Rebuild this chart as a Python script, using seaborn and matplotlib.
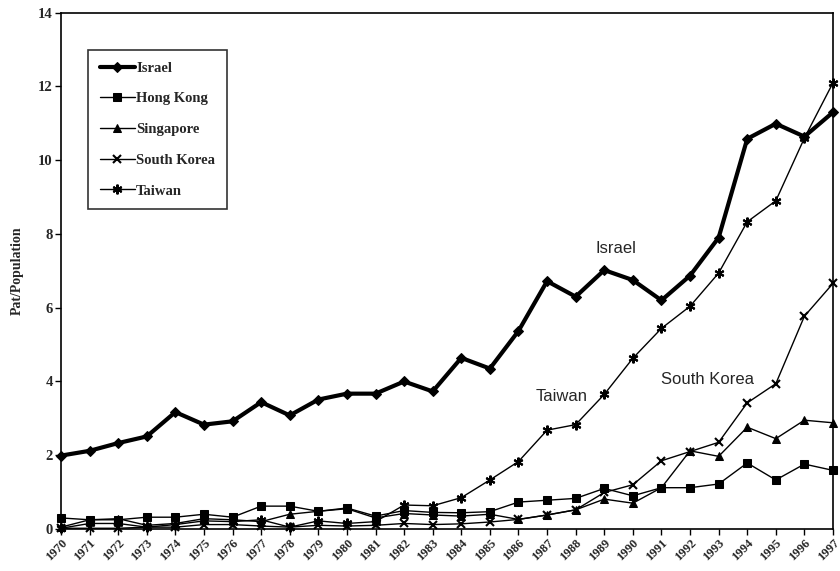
import matplotlib
matplotlib.use("Agg")
import matplotlib.pyplot as plt
import seaborn as sns
import pandas as pd

years = list(range(1970, 1998))
israel = [1.99, 2.12, 2.33, 2.51, 3.17, 2.83, 2.92, 3.44, 3.08, 3.51, 3.67, 3.67, 4.00, 3.73,
          4.64, 4.35, 5.37, 6.72, 6.30, 7.02, 6.75, 6.20, 6.87, 7.90, 10.58, 10.99, 10.64, 11.30]
hong_kong = [0.30, 0.25, 0.25, 0.32, 0.32, 0.40, 0.32, 0.62, 0.62, 0.48, 0.57, 0.35, 0.50, 0.45,
             0.44, 0.47, 0.73, 0.78, 0.83, 1.10, 0.90, 1.12, 1.12, 1.22, 1.79, 1.33, 1.76, 1.59]
singapore = [0.05, 0.25, 0.28, 0.10, 0.15, 0.28, 0.25, 0.20, 0.40, 0.48, 0.55, 0.30, 0.42, 0.38,
             0.35, 0.40, 0.26, 0.38, 0.52, 0.81, 0.70, 1.12, 2.12, 1.97, 2.76, 2.45, 2.95, 2.88]
south_korea = [0.02, 0.02, 0.02, 0.05, 0.05, 0.12, 0.12, 0.08, 0.05, 0.10, 0.08, 0.10, 0.15, 0.12,
               0.14, 0.19, 0.26, 0.38, 0.52, 0.99, 1.20, 1.85, 2.10, 2.35, 3.42, 3.94, 5.77, 6.66]
taiwan = [0.02, 0.15, 0.15, 0.05, 0.12, 0.22, 0.20, 0.25, 0.05, 0.22, 0.15, 0.20, 0.65, 0.63,
          0.85, 1.33, 1.83, 2.68, 2.83, 3.65, 4.63, 5.44, 6.04, 6.94, 8.33, 8.90, 10.60, 12.10]

series_names = ["Israel", "Hong Kong", "Singapore", "South Korea", "Taiwan"]
series_values = [israel, hong_kong, singapore, south_korea, taiwan]
y_ticks = [0, 2, 4, 6, 8, 10, 12, 14]

sns.set_theme(style="white")
plt.rcParams['font.family'] = ['Liberation Serif', 'DejaVu Serif']

fig = plt.figure(figsize=(8.4, 5.71), dpi=100)
ax = fig.add_axes([61/840, 1-529/571, (833-61)/840, (529-12.7)/571])

styles = {
    "Israel": dict(marker="D", markersize=5, linewidth=3.0),
    "Hong Kong": dict(marker="s", markersize=6, linewidth=1.0),
    "Singapore": dict(marker="^", markersize=6, linewidth=1.0),
    "South Korea": dict(marker="x", markersize=6, linewidth=1.0, markeredgewidth=1.5),
    "Taiwan": dict(marker=(6, 2, 0), markersize=7, linewidth=1.0, markeredgewidth=1.5),
}

for name, vals in zip(series_names, series_values):
    df = pd.DataFrame({"year": years, "value": vals})
    sns.lineplot(data=df, x="year", y="value", ax=ax, color="black", label=name,
                 markeredgecolor="black", markerfacecolor="black", clip_on=False,
                 **styles[name])

ax.set_xlim(1970, 1997)
ax.set_ylim(0, 14)
ax.set_yticks(y_ticks)
ax.set_yticklabels([str(t) for t in y_ticks], fontsize=10.5, fontweight="bold")
ax.set_xticks(years)
ax.set_xticklabels([str(y) for y in years], rotation=45, ha="right", rotation_mode="anchor",
                   fontsize=9, fontweight="bold")
ax.tick_params(axis="both", direction="out", length=4, width=1, color="black",
               left=True, bottom=True, pad=2)
ax.set_xlabel("")
ax.set_ylabel("Pat/Population", fontsize=10, fontweight="bold", labelpad=10)

for s in ax.spines.values():
    s.set_visible(True)
    s.set_color("black")
    s.set_linewidth(1.2)

leg = ax.legend(loc="upper left", bbox_to_anchor=(0.035, 0.928), borderaxespad=0,
                frameon=True, fancybox=False, edgecolor="black",
                prop={"size": 10.5, "weight": "bold"},
                labelspacing=1.2, handlelength=2.4, handletextpad=0.1,
                borderpad=0.8)
leg.get_frame().set_linewidth(1.2)

ax.text(1989.4, 7.6, "Israel", ha="center", va="center", fontsize=12,
        family=["Liberation Sans", "DejaVu Sans"])
ax.text(1987.5, 3.6, "Taiwan", ha="center", va="center", fontsize=12,
        family=["Liberation Sans", "DejaVu Sans"])
ax.text(1992.6, 4.05, "South Korea", ha="center", va="center", fontsize=12,
        family=["Liberation Sans", "DejaVu Sans"])

fig.savefig("out.png", dpi=100)
